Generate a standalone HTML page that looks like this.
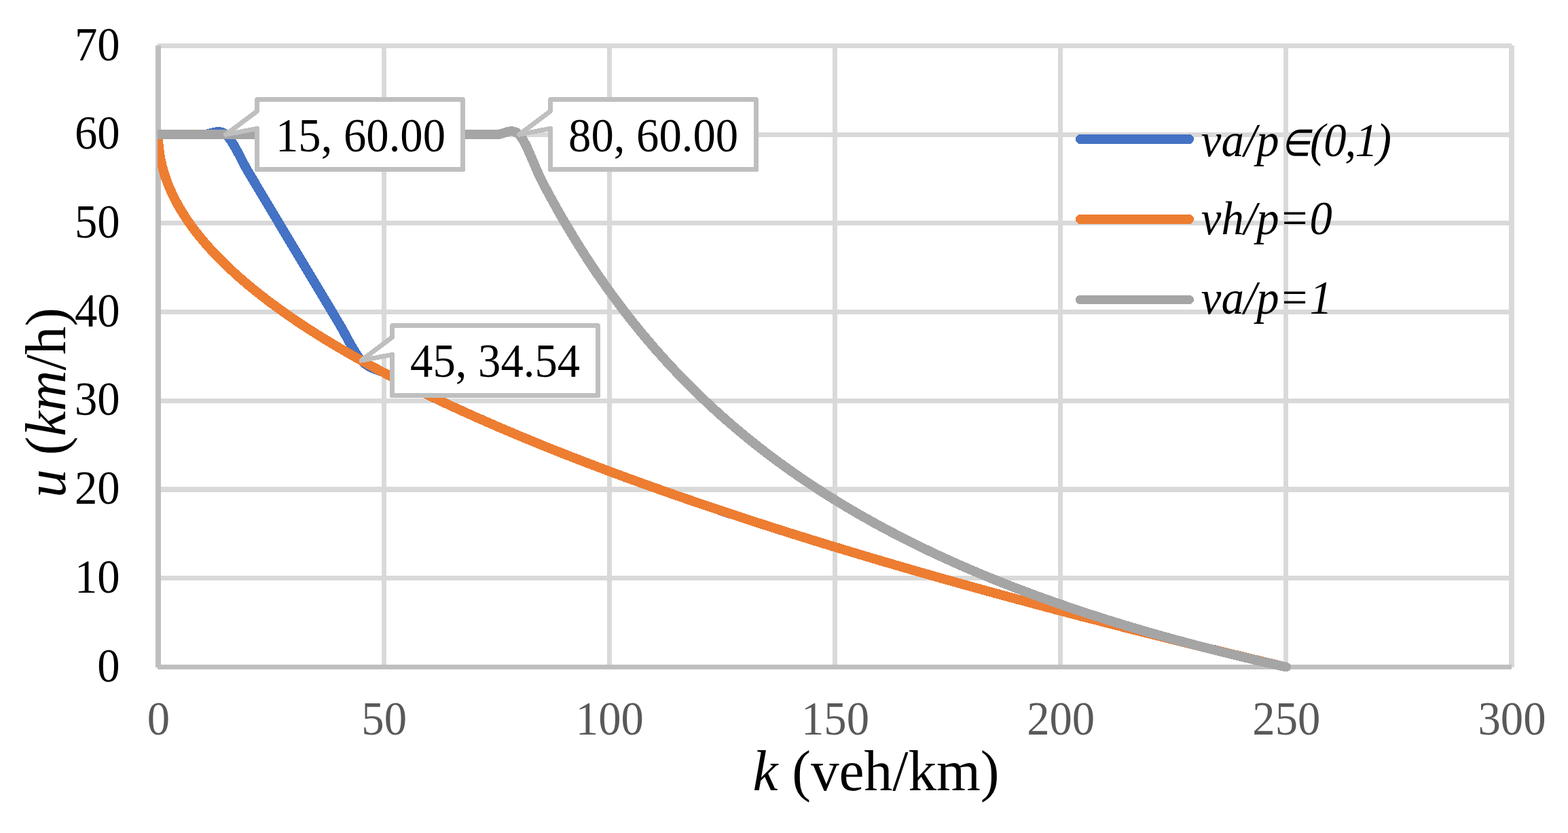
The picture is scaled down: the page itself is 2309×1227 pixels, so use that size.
<!DOCTYPE html>
<html lang="en">
<head>
<meta charset="utf-8">
<title>u-k chart</title>
<style>
html,body{margin:0;padding:0;background:#fff;}
body{width:2309px;height:1227px;overflow:hidden;}
svg{display:block;}
</style>
</head>
<body>
<svg width="2309" height="1227" viewBox="0 0 2309 1227">
<defs><clipPath id="pc"><rect x="232" y="40" width="2050" height="980"/></clipPath></defs>
<rect width="2309" height="1227" fill="#fff"/>
<g id="gridlines" fill="#D9D9D9" shape-rendering="crispEdges">
<rect x="232" y="64" width="1994" height="7"/>
<rect x="232" y="195" width="1994" height="7"/>
<rect x="232" y="325" width="1994" height="7"/>
<rect x="232" y="456" width="1994" height="7"/>
<rect x="232" y="587" width="1994" height="7"/>
<rect x="232" y="717" width="1994" height="8"/>
<rect x="232" y="848" width="1994" height="7"/>
<rect x="562" y="67" width="7" height="916"/>
<rect x="894" y="67" width="7" height="916"/>
<rect x="1226" y="67" width="7" height="916"/>
<rect x="1558" y="67" width="7" height="916"/>
<rect x="1890" y="67" width="7" height="916"/>
<rect x="2222" y="67" width="8" height="916"/>
</g>
<g id="axes" fill="#BFBFBF" shape-rendering="crispEdges">
<rect x="232" y="979" width="1994" height="7"/>
<rect x="229" y="67" width="8" height="916"/>
</g>
<g id="series" fill="none" stroke-width="14" stroke-linecap="round" stroke-linejoin="round" clip-path="url(#pc)" shape-rendering="crispEdges">
<path d="M233.00,198.21 C238.54,198.21 255.14,198.21 266.22,198.21 C277.29,198.21 288.36,198.21 299.43,198.21 C310.51,198.21 321.58,188.97 332.65,198.21 C343.72,207.46 354.79,235.19 365.87,253.67 C376.94,272.16 388.01,290.64 399.08,309.13 C410.16,327.61 421.23,346.10 432.30,364.59 C443.37,383.07 454.44,401.56 465.52,420.04 C476.59,438.53 487.66,457.02 498.73,475.50 C509.81,493.99 520.88,518.72 531.95,530.96 C543.02,543.20 554.09,543.10 565.17,548.96 C576.24,554.81 587.31,560.50 598.38,566.08 C609.46,571.66 620.53,577.09 631.60,582.43 C642.67,587.78 653.74,592.99 664.82,598.12 C675.89,603.25 686.96,608.28 698.03,613.22 C709.11,618.16 720.18,623.01 731.25,627.79 C742.32,632.56 753.39,637.25 764.47,641.87 C775.54,646.50 786.61,651.04 797.68,655.53 C808.76,660.01 819.83,664.43 830.90,668.79 C841.97,673.14 853.04,677.44 864.12,681.68 C875.19,685.92 886.26,690.11 897.33,694.24 C908.41,698.37 919.48,702.45 930.55,706.49 C941.62,710.52 952.69,714.51 963.77,718.45 C974.84,722.39 985.91,726.29 996.98,730.14 C1008.06,734.00 1019.13,737.81 1030.20,741.58 C1041.27,745.36 1052.34,749.09 1063.42,752.79 C1074.49,756.49 1085.56,760.14 1096.63,763.77 C1107.71,767.40 1118.78,770.99 1129.85,774.54 C1140.92,778.10 1151.99,781.63 1163.07,785.12 C1174.14,788.61 1185.21,792.08 1196.28,795.51 C1207.36,798.94 1218.43,802.34 1229.50,805.72 C1240.57,809.09 1251.64,812.44 1262.72,815.76 C1273.79,819.08 1284.86,822.37 1295.93,825.64 C1307.01,828.91 1318.08,832.15 1329.15,835.37 C1340.22,838.59 1351.29,841.78 1362.37,844.95 C1373.44,848.12 1384.51,851.27 1395.58,854.39 C1406.66,857.52 1417.73,860.62 1428.80,863.70 C1439.87,866.78 1450.94,869.84 1462.02,872.88 C1473.09,875.92 1484.16,878.94 1495.23,881.94 C1506.31,884.94 1517.38,887.92 1528.45,890.88 C1539.52,893.84 1550.59,896.78 1561.67,899.70 C1572.74,902.62 1583.81,905.53 1594.88,908.42 C1605.96,911.30 1617.03,914.17 1628.10,917.02 C1639.17,919.88 1650.24,922.71 1661.32,925.53 C1672.39,928.35 1683.46,931.15 1694.53,933.94 C1705.61,936.73 1716.68,939.50 1727.75,942.25 C1738.82,945.01 1749.89,947.75 1760.97,950.47 C1772.04,953.20 1783.11,955.91 1794.18,958.61 C1805.26,961.30 1816.33,963.99 1827.40,966.65 C1838.47,969.32 1849.54,971.98 1860.62,974.62 C1871.69,977.26 1888.30,981.19 1893.83,982.50" stroke="#4472C4"/>
<path d="M233.00,198.21 C233.08,200.39 233.15,206.93 233.46,211.29 C233.77,215.64 234.23,220.00 234.85,224.36 C235.46,228.71 236.23,233.07 237.15,237.43 C238.07,241.79 239.15,246.14 240.38,250.50 C241.61,254.86 243.00,259.21 244.53,263.57 C246.07,267.93 247.76,272.29 249.61,276.64 C251.45,281.00 253.45,285.36 255.61,289.71 C257.76,294.07 260.07,298.43 262.53,302.79 C264.99,307.14 267.60,311.50 270.37,315.86 C273.14,320.21 276.06,324.57 279.13,328.93 C282.21,333.29 285.44,337.64 288.82,342.00 C292.21,346.36 295.74,350.71 299.43,355.07 C303.12,359.43 306.97,363.79 310.97,368.14 C314.97,372.50 319.12,376.86 323.42,381.21 C327.73,385.57 332.19,389.93 336.80,394.29 C341.42,398.64 346.18,403.00 351.10,407.36 C356.02,411.71 361.10,416.07 366.33,420.43 C371.56,424.79 376.94,429.14 382.48,433.50 C388.01,437.86 393.70,442.21 399.54,446.57 C405.39,450.93 411.39,455.29 417.54,459.64 C423.69,464.00 429.99,468.36 436.45,472.71 C442.91,477.07 449.52,481.43 456.29,485.79 C463.06,490.14 469.98,494.50 477.05,498.86 C484.12,503.21 491.35,507.57 498.73,511.93 C506.11,516.29 513.65,520.64 521.34,525.00 C529.03,529.36 536.87,533.71 544.87,538.07 C552.86,542.43 561.01,546.79 569.32,551.14 C577.62,555.50 586.08,559.86 594.69,564.21 C603.30,568.57 612.07,572.93 620.99,577.29 C629.91,581.64 638.98,586.00 648.21,590.36 C657.44,594.71 666.82,599.07 676.35,603.43 C685.88,607.79 695.57,612.14 705.41,616.50 C715.26,620.86 725.25,625.21 735.40,629.57 C745.55,633.93 755.85,638.29 766.31,642.64 C776.77,647.00 787.38,651.36 798.14,655.71 C808.91,660.07 819.83,664.43 830.90,668.79 C841.97,673.14 853.20,677.50 864.58,681.86 C875.96,686.21 887.49,690.57 899.18,694.93 C910.87,699.29 922.71,703.64 934.70,708.00 C946.70,712.36 958.85,716.71 971.15,721.07 C983.45,725.43 995.91,729.79 1008.52,734.14 C1021.13,738.50 1033.89,742.86 1046.81,747.21 C1059.73,751.57 1072.80,755.93 1086.02,760.29 C1099.25,764.64 1112.63,769.00 1126.16,773.36 C1139.69,777.71 1153.38,782.07 1167.22,786.43 C1181.06,790.79 1195.05,795.14 1209.20,799.50 C1223.35,803.86 1237.65,808.21 1252.11,812.57 C1266.56,816.93 1281.17,821.29 1295.93,825.64 C1310.70,830.00 1325.61,834.36 1340.68,838.71 C1355.75,843.07 1370.98,847.43 1386.36,851.79 C1401.73,856.14 1417.27,860.50 1432.95,864.86 C1448.64,869.21 1464.48,873.57 1480.47,877.93 C1496.46,882.29 1512.61,886.64 1528.91,891.00 C1545.21,895.36 1561.67,899.71 1578.28,904.07 C1594.88,908.43 1611.65,912.79 1628.56,917.14 C1645.48,921.50 1662.55,925.86 1679.77,930.21 C1696.99,934.57 1714.37,938.93 1731.90,943.29 C1749.43,947.64 1767.12,952.00 1784.96,956.36 C1802.80,960.71 1820.79,965.07 1838.93,969.43 C1857.08,973.79 1884.68,980.32 1893.83,982.50" stroke="#ED7D31"/>
<path d="M233.00,198.21 C238.54,198.21 255.14,198.21 266.22,198.21 C277.29,198.21 288.36,198.21 299.43,198.21 C310.51,198.21 321.58,198.21 332.65,198.21 C343.72,198.21 354.79,198.21 365.87,198.21 C376.94,198.21 388.01,198.21 399.08,198.21 C410.16,198.21 421.23,198.21 432.30,198.21 C443.37,198.21 454.44,198.21 465.52,198.21 C476.59,198.21 487.66,198.21 498.73,198.21 C509.81,198.21 520.88,198.21 531.95,198.21 C543.02,198.21 554.09,198.21 565.17,198.21 C576.24,198.21 587.31,198.21 598.38,198.21 C609.46,198.21 620.53,198.21 631.60,198.21 C642.67,198.21 653.74,198.21 664.82,198.21 C675.89,198.21 686.96,198.21 698.03,198.21 C709.11,198.21 720.18,198.21 731.25,198.21 C742.32,198.21 753.39,186.91 764.47,198.21 C775.54,209.52 786.61,244.70 797.68,266.06 C808.76,287.42 819.83,307.32 830.90,326.37 C841.97,345.41 853.04,363.24 864.12,380.32 C875.19,397.41 886.26,413.47 897.33,428.89 C908.41,444.30 919.48,458.84 930.55,472.82 C941.62,486.80 952.69,500.03 963.77,512.77 C974.84,525.50 985.91,537.59 996.98,549.24 C1008.06,560.89 1019.13,571.97 1030.20,582.67 C1041.27,593.37 1052.34,603.57 1063.42,613.42 C1074.49,623.28 1085.56,632.70 1096.63,641.81 C1107.71,650.93 1118.78,659.65 1129.85,668.10 C1140.92,676.55 1151.99,684.66 1163.07,692.51 C1174.14,700.37 1185.21,707.92 1196.28,715.24 C1207.36,722.56 1218.43,729.61 1229.50,736.45 C1240.57,743.29 1251.64,749.88 1262.72,756.29 C1273.79,762.70 1284.86,768.88 1295.93,774.89 C1307.01,780.91 1318.08,786.72 1329.15,792.37 C1340.22,798.02 1351.29,803.49 1362.37,808.82 C1373.44,814.14 1384.51,819.30 1395.58,824.32 C1406.66,829.35 1417.73,834.22 1428.80,838.97 C1439.87,843.72 1450.94,848.33 1462.02,852.82 C1473.09,857.32 1484.16,861.69 1495.23,865.95 C1506.31,870.21 1517.38,874.35 1528.45,878.40 C1539.52,882.45 1550.59,886.38 1561.67,890.23 C1572.74,894.08 1583.81,897.82 1594.88,901.48 C1605.96,905.14 1617.03,908.71 1628.10,912.20 C1639.17,915.69 1650.24,919.09 1661.32,922.42 C1672.39,925.75 1683.46,928.99 1694.53,932.17 C1705.61,935.35 1716.68,938.45 1727.75,941.49 C1738.82,944.53 1749.89,947.50 1760.97,950.41 C1772.04,953.31 1783.11,956.16 1794.18,958.94 C1805.26,961.73 1816.33,964.45 1827.40,967.12 C1838.47,969.79 1849.54,972.40 1860.62,974.97 C1871.69,977.53 1888.30,981.24 1893.83,982.50" stroke="#A5A5A5"/>
</g>
<g id="legend">
<g fill="none" stroke-linecap="round" shape-rendering="crispEdges">
<line x1="1591" y1="205" x2="1751" y2="205" stroke="#4472C4" stroke-width="14"/>
<line x1="1591" y1="323" x2="1751" y2="323" stroke="#ED7D31" stroke-width="14"/>
<line x1="1590.5" y1="441.5" x2="1751.5" y2="441.5" stroke="#A5A5A5" stroke-width="13"/>
</g>
<g font-family="'Liberation Serif', serif" font-style="italic" font-size="66.67" fill="#000">
<text transform="translate(1768.8,230) scale(1,1.04)">va/p<tspan x="116" dy="3" font-family="'Noto Sans CJK SC', 'DejaVu Sans', sans-serif" font-weight="500" font-size="58" textLength="46" lengthAdjust="spacingAndGlyphs">∈</tspan><tspan x="160.1" dy="-3" letter-spacing="-1.9">(0,1)</tspan></text>
<text transform="translate(1768.8,345) scale(1,1.04)">vh/p=0</text>
<text transform="translate(1768.8,462) scale(1,1.04)">va/p=1</text>
</g>
</g>
<g id="labels" shape-rendering="crispEdges">
<path d="M378.5,146.5 L681.5,146.5 L681.5,249.5 L378.5,249.5 L378.5,189.4 L332.6,198.2 L378.5,163.7 Z" fill="#fff" stroke="#BFBFBF" stroke-width="7" stroke-linejoin="round"/>
<text transform="translate(531.00,223.10) scale(1,1.04)" text-anchor="middle" font-family="'Liberation Serif', serif" font-size="66.67" fill="#000">15, 60.00</text>
<path d="M810.5,146.5 L1113.5,146.5 L1113.5,249.5 L810.5,249.5 L810.5,189.4 L764.5,198.2 L810.5,163.7 Z" fill="#fff" stroke="#BFBFBF" stroke-width="7" stroke-linejoin="round"/>
<text transform="translate(962.10,223.10) scale(1,1.04)" text-anchor="middle" font-family="'Liberation Serif', serif" font-size="66.67" fill="#000">80, 60.00</text>
<path d="M577.5,479.5 L880.5,479.5 L880.5,582.5 L577.5,582.5 L577.5,522.4 L532.0,531.0 L577.5,496.7 Z" fill="#fff" stroke="#BFBFBF" stroke-width="7" stroke-linejoin="round"/>
<text transform="translate(729.10,554.90) scale(1,1.04)" text-anchor="middle" font-family="'Liberation Serif', serif" font-size="66.67" fill="#000">45, 34.54</text>
</g>
<g id="yticks" font-family="'Liberation Serif', serif" font-size="66.67" fill="#000" text-anchor="end">
<text transform="translate(176.6,1003.50) scale(1,1.04)">0</text>
<text transform="translate(176.6,872.79) scale(1,1.04)">10</text>
<text transform="translate(176.6,742.07) scale(1,1.04)">20</text>
<text transform="translate(176.6,611.36) scale(1,1.04)">30</text>
<text transform="translate(176.6,480.64) scale(1,1.04)">40</text>
<text transform="translate(176.6,349.93) scale(1,1.04)">50</text>
<text transform="translate(176.6,219.21) scale(1,1.04)">60</text>
<text transform="translate(176.6,88.50) scale(1,1.04)">70</text>
</g>
<g id="xticks" font-family="'Liberation Serif', serif" font-size="66.67" fill="#595959" text-anchor="middle">
<text transform="translate(233.50,1082.3) scale(1,1.04)">0</text>
<text transform="translate(565.67,1082.3) scale(1,1.04)">50</text>
<text transform="translate(897.83,1082.3) scale(1,1.04)">100</text>
<text transform="translate(1230.00,1082.3) scale(1,1.04)">150</text>
<text transform="translate(1562.17,1082.3) scale(1,1.04)">200</text>
<text transform="translate(1894.33,1082.3) scale(1,1.04)">250</text>
<text transform="translate(2226.50,1082.3) scale(1,1.04)">300</text>
</g>
<text transform="translate(1290,1164) scale(1,1.02)" text-anchor="middle" font-family="'Liberation Serif', serif" font-size="83.33" fill="#000"><tspan font-style="italic">k</tspan> (veh/km)</text>
<text transform="translate(96,593) rotate(-90) scale(1,1.02)" text-anchor="middle" font-family="'Liberation Serif', serif" font-size="83.33" fill="#000"><tspan font-style="italic">u</tspan> (<tspan font-style="italic">km</tspan>/h)</text>
</svg>
</body>
</html>
